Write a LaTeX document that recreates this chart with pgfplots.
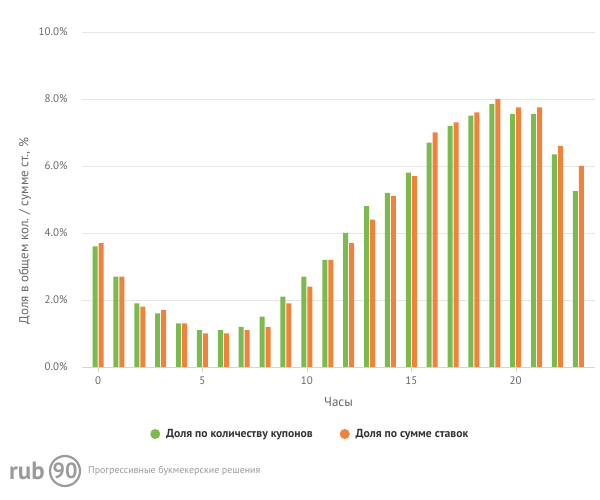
\documentclass[border=0pt]{standalone}
\usepackage{pgfplots}
\pgfplotsset{compat=1.18}
\usepackage{fontspec}
\setmainfont{PT Sans}
\definecolor{cgreen}{HTML}{7CBA50}
\definecolor{corange}{HTML}{F0823C}
\definecolor{tickgray}{HTML}{666666}
\definecolor{gridgray}{HTML}{E6E6E6}
\definecolor{axisblue}{HTML}{CCD6EB}
\definecolor{legtext}{HTML}{333333}
\definecolor{logogray}{HTML}{9A9A9A}
\begin{document}
\begin{tikzpicture}
\path[use as bounding box] (0,0) rectangle (600bp,500bp);
\begin{axis}[
  at={(82bp,133bp)}, anchor=south west,
  scale only axis, width=513bp, height=335bp,
  xmin=-0.77, xmax=23.8, ymin=0, ymax=10,
  axis x line*=bottom, axis y line*=left,
  x axis line style={draw=axisblue},
  y axis line style={draw=none},
  xtick={0,5,10,15,20},
  ytick={0,2,4,6,8,10},
  yticklabels={0.0\%,2.0\%,4.0\%,6.0\%,8.0\%,10.0\%},
  /pgf/number format/assume math mode=true,
  xtick style={draw=axisblue},
  ytick style={draw=none},
  tick align=outside,
  major tick length=5bp,
  ymajorgrids, grid style={gridgray, line width=0.8bp},
  tick label style={font=\fontsize{11}{13}\selectfont, text=tickgray},
  yticklabel style={xshift=-6bp},
  xticklabel style={yshift=-1bp},
  xlabel={Часы},
  ylabel={Доля в общем кол. / сумме ст., \%},
  label style={font=\fontsize{13}{15}\selectfont, text=tickgray},
  xlabel style={at={(axis description cs:0.5,-0.104)}, anchor=center},
  ylabel style={at={(axis description cs:-0.111,0.406)}, anchor=center},
  ybar, bar width=5bp,
  legend columns=2,
  legend style={at={(axis description cs:0.445,-0.2)}, anchor=center, draw=none,
    font=\fontsize{11.7}{14}\selectfont\bfseries, text=legtext,
    /tikz/every odd column/.append style={column sep=4bp},
    /tikz/every even column/.append style={column sep=25bp}},
]
\addplot[fill=cgreen, draw=none, bar shift=-3bp,
  legend image code/.code={\fill[cgreen] (0.2em,0bp) circle (5bp);}]
  coordinates {(0,3.6) (1,2.7) (2,1.9) (3,1.6) (4,1.3) (5,1.1) (6,1.1) (7,1.2)
  (8,1.5) (9,2.1) (10,2.7) (11,3.2) (12,4.0) (13,4.8) (14,5.2) (15,5.8)
  (16,6.7) (17,7.2) (18,7.5) (19,7.85) (20,7.55) (21,7.55) (22,6.35) (23,5.25)};
\addlegendentry{Доля по количеству купонов}
\addplot[fill=corange, draw=none, bar shift=3bp,
  legend image code/.code={\fill[corange] (0.2em,0bp) circle (5bp);}]
  coordinates {(0,3.7) (1,2.7) (2,1.8) (3,1.7) (4,1.3) (5,1.0) (6,1.0) (7,1.1)
  (8,1.2) (9,1.9) (10,2.4) (11,3.2) (12,3.7) (13,4.4) (14,5.1) (15,5.7)
  (16,7.0) (17,7.3) (18,7.6) (19,8.0) (20,7.75) (21,7.75) (22,6.6) (23,6.0)};
\addlegendentry{Доля по сумме ставок}
\end{axis}
\node[anchor=west, inner sep=0pt, text=logogray, font=\fontsize{25}{27}\selectfont\bfseries] at (9bp,29bp) {rub};
\draw[logogray, line width=2.2bp] (65bp,29bp) circle (15bp);
\node[inner sep=0pt, text=logogray, font=\fontsize{22}{24}\selectfont\bfseries] at (65bp,29bp) {90};
\node[anchor=west, inner sep=0pt, text=logogray, font=\fontsize{10}{12}\selectfont] at (88bp,29bp) {Прогрессивные букмекерские решения};
\end{tikzpicture}
\end{document}
